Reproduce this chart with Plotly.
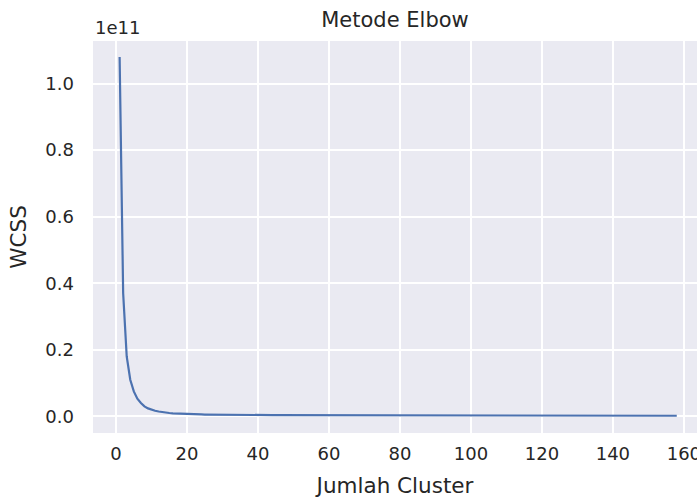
import plotly.graph_objects as go

# Number of clusters
clusters = list(range(1, 159))

# WCSS values, in units of 1e9
wcss_e9 = [
    108.0, 37.0, 18.0, 11.0, 7.5, 5.3, 4.0, 3.0, 2.4, 2.0,
    1.70, 1.45, 1.25, 1.10, 1.00, 0.92, 0.85, 0.79, 0.74, 0.70,
    0.66, 0.63, 0.60, 0.57, 0.55, 0.53, 0.51, 0.50, 0.48, 0.47,
    0.46, 0.45, 0.44, 0.43, 0.42, 0.41, 0.41, 0.40, 0.39, 0.39,
    0.38, 0.38, 0.37, 0.37, 0.36, 0.36, 0.35, 0.35, 0.35, 0.34,
    0.34, 0.34, 0.33, 0.33, 0.33, 0.32, 0.32, 0.32, 0.32, 0.31,
    0.31, 0.31, 0.31, 0.30, 0.30, 0.30, 0.30, 0.30, 0.29, 0.29,
    0.29, 0.29, 0.29, 0.28, 0.28, 0.28, 0.28, 0.28, 0.28, 0.27,
    0.27, 0.27, 0.27, 0.27, 0.27, 0.26, 0.26, 0.26, 0.26, 0.26,
    0.26, 0.26, 0.25, 0.25, 0.25, 0.25, 0.25, 0.25, 0.25, 0.24,
    0.24, 0.24, 0.24, 0.24, 0.24, 0.24, 0.24, 0.23, 0.23, 0.23,
    0.23, 0.23, 0.23, 0.23, 0.23, 0.22, 0.22, 0.22, 0.22, 0.22,
    0.22, 0.22, 0.22, 0.22, 0.21, 0.21, 0.21, 0.21, 0.21, 0.21,
    0.21, 0.21, 0.21, 0.20, 0.20, 0.20, 0.20, 0.20, 0.20, 0.20,
    0.20, 0.20, 0.20, 0.19, 0.19, 0.19, 0.19, 0.19, 0.19, 0.19,
    0.19, 0.19, 0.19, 0.18, 0.18, 0.18, 0.18, 0.18,
]
wcss = [v * 1e9 for v in wcss_e9]

x_ticks = [0, 20, 40, 60, 80, 100, 120, 140, 160]
y_tick_vals = [0.0, 0.2e11, 0.4e11, 0.6e11, 0.8e11, 1.0e11]
y_tick_text = ["0.0", "0.2", "0.4", "0.6", "0.8", "1.0"]

TEXT = "#262626"
FONT = "DejaVu Sans"

fig = go.Figure()
fig.add_trace(go.Scatter(
    x=clusters, y=wcss, mode="lines",
    line=dict(color="#4C72B0", width=2.2),
    hoverinfo="skip", showlegend=False,
))

fig.update_layout(
    width=697, height=501,
    margin=dict(l=93, r=0, t=41, b=68, autoexpand=False),
    paper_bgcolor="white",
    plot_bgcolor="#EAEAF2",
    font=dict(family=FONT, color=TEXT, size=18),
    title=dict(text="Metode Elbow", x=0.5, xanchor="center", xref="paper",
               y=1 - 20 / 501, yanchor="middle",
               font=dict(size=21, color=TEXT, family=FONT)),
    xaxis=dict(
        range=[-6.5, 163.7],
        tickvals=x_ticks,
        ticktext=[str(t) for t in x_ticks],
        showgrid=True, gridcolor="white", gridwidth=1.5,
        zeroline=False, showline=False, automargin=False,
        ticks="", ticklabelstandoff=8, ticklabeloverflow="allow",
        tickfont=dict(size=18, color=TEXT),
        title=dict(text="Jumlah Cluster", font=dict(size=21.5, color=TEXT), standoff=14),
    ),
    yaxis=dict(
        range=[-0.05e11, 1.128e11],
        tickvals=y_tick_vals,
        ticktext=y_tick_text,
        showgrid=True, gridcolor="white", gridwidth=1.5,
        zeroline=False, showline=False, automargin=False,
        ticks="", ticklabelstandoff=18,
        tickfont=dict(size=18, color=TEXT),
        title=dict(text="WCSS", font=dict(size=21.5, color=TEXT), standoff=12),
    ),
    annotations=[dict(
        text="1e11", xref="paper", yref="paper", x=0, y=1,
        xanchor="left", yanchor="bottom", yshift=1, showarrow=False,
        font=dict(size=18, color=TEXT, family=FONT),
    )],
)

fig.write_html(
    "out.html",
    config={"displayModeBar": False},
    post_script="document.body.style.margin='0';document.body.style.overflow='hidden';",
)
